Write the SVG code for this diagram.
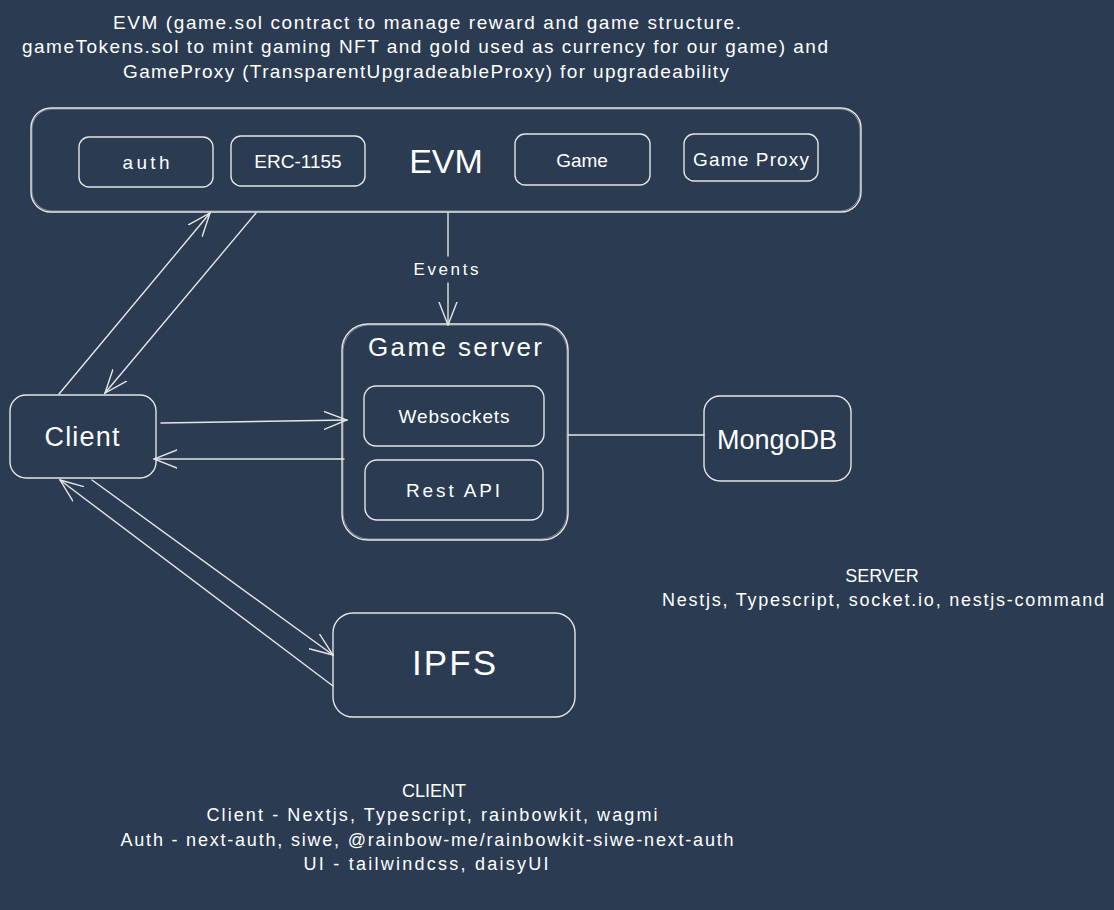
<svg xmlns="http://www.w3.org/2000/svg" width="1114" height="910" viewBox="0 0 1114 910">
<style>
.box{fill:none;stroke:#e6e6e6;stroke-width:1.4;stroke-linecap:round}
.box2{fill:none;stroke:#e6e6e6;stroke-width:0.8;opacity:0.6}
.ln{fill:none;stroke:#e6e6e6;stroke-width:1.4;stroke-linecap:round}
.t{fill:#ffffff;font-family:"Liberation Sans","Noto Sans",sans-serif;text-anchor:middle;dominant-baseline:central}
</style>
<defs>
<marker id="ah" viewBox="0 0 24 20" refX="23" refY="10" markerWidth="24" markerHeight="20" markerUnits="userSpaceOnUse" orient="auto">
<path d="M0,1 L23,10 L0,19" fill="none" stroke="#e6e6e6" stroke-width="1.4" stroke-linecap="round"/>
</marker>
</defs>
<rect width="1114" height="910" fill="#2a3b52"/>

<g id="title">
<text class="t" x="427" y="22" font-size="19" textLength="628">EVM (game.sol contract to manage reward and game structure.</text>
<text class="t" x="425" y="46" font-size="19" textLength="806">gameTokens.sol to mint gaming NFT and gold used as currency for our game) and</text>
<text class="t" x="426" y="71" font-size="19" textLength="606">GameProxy (TransparentUpgradeableProxy) for upgradeability</text>
</g>

<g id="evm">
<rect class="box" x="31" y="108" width="830" height="104" rx="20"/>
<rect class="box2" x="32" y="109" width="828" height="102" rx="20"/>
<text class="t" x="446" y="161" font-size="34">EVM</text>
</g>
<g id="auth">
<rect class="box" x="79" y="137" width="134" height="50" rx="10"/>
<text class="t" x="146" y="162" font-size="19" textLength="47">auth</text>
</g>
<g id="erc1155">
<rect class="box" x="231" y="136" width="134" height="50" rx="10"/>
<text class="t" x="298" y="161" font-size="19">ERC-1155</text>
</g>
<g id="game">
<rect class="box" x="515" y="134" width="135" height="51" rx="10"/>
<text class="t" x="582" y="160" font-size="19">Game</text>
</g>
<g id="gameproxy">
<rect class="box" x="684" y="134" width="134" height="47" rx="10"/>
<text class="t" x="751" y="159" font-size="19" textLength="116">Game Proxy</text>
</g>

<g id="gameserver">
<rect class="box" x="342" y="324" width="226" height="216" rx="26"/>
<rect class="box2" x="343" y="325" width="224" height="214" rx="26"/>
<text class="t" x="455" y="347" font-size="26" textLength="174">Game server</text>
</g>
<g id="websockets">
<rect class="box" x="364" y="386" width="180" height="60" rx="12"/>
<text class="t" x="454" y="416" font-size="19" textLength="111">Websockets</text>
</g>
<g id="restapi">
<rect class="box" x="365" y="460" width="178" height="60" rx="12"/>
<text class="t" x="453" y="490" font-size="19" textLength="94">Rest API</text>
</g>

<g id="client">
<rect class="box" x="10" y="395" width="146" height="83" rx="16"/>
<text class="t" x="82" y="437" font-size="27" textLength="75">Client</text>
</g>
<g id="mongodb">
<rect class="box" x="704" y="396" width="147" height="85" rx="16"/>
<text class="t" x="777" y="440" font-size="27">MongoDB</text>
</g>
<g id="ipfs">
<rect class="box" x="333" y="613" width="242" height="104" rx="20"/>
<text class="t" x="454" y="662" font-size="35" textLength="84">IPFS</text>
</g>

<g id="connectors">
<path class="ln" d="M59,394 L210,213" marker-end="url(#ah)"/>
<path class="ln" d="M256,213 L105,393" marker-end="url(#ah)"/>
<path class="ln" d="M448,213 L448,256"/>
<path class="ln" d="M448,283 L448,325" marker-end="url(#ah)"/>
<text class="t" x="446" y="269" font-size="17" textLength="65">Events</text>
<path class="ln" d="M161,423 L347,420" marker-end="url(#ah)"/>
<path class="ln" d="M344,459 L154,459" marker-end="url(#ah)"/>
<path class="ln" d="M568,435 L704,435"/>
<path class="ln" d="M92,480 L333,655" marker-end="url(#ah)"/>
<path class="ln" d="M333,686 L60,480" marker-end="url(#ah)"/>
</g>

<g id="server-notes">
<text class="t" x="882" y="576" font-size="18">SERVER</text>
<text class="t" x="883" y="600" font-size="18" textLength="442">Nestjs, Typescript, socket.io, nestjs-command</text>
</g>
<g id="client-notes">
<text class="t" x="434" y="791" font-size="18">CLIENT</text>
<text class="t" x="432" y="815" font-size="18" textLength="451">Client - Nextjs, Typescript, rainbowkit, wagmi</text>
<text class="t" x="427" y="840" font-size="18" textLength="613">Auth - next-auth, siwe, @rainbow-me/rainbowkit-siwe-next-auth</text>
<text class="t" x="426" y="864" font-size="18" textLength="245">UI - tailwindcss, daisyUI</text>
</g>
</svg>
